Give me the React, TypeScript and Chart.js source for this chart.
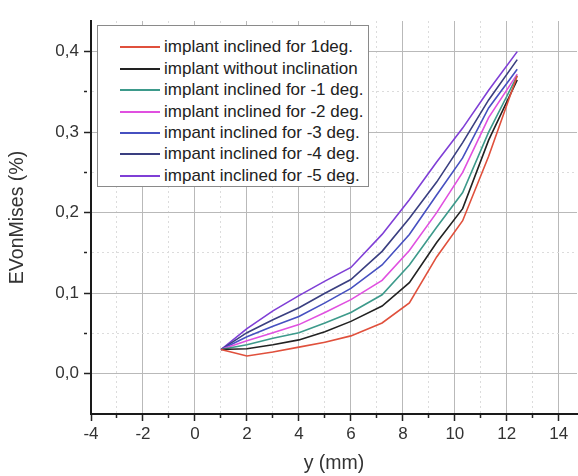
import React, { useEffect, useRef } from 'react';
import { Chart, registerables } from 'chart.js';

Chart.register(...registerables);

// x positions (mm) of the computed points
const X_VALUES = [1, 2, 3, 4, 5, 6, 7.2, 8.25, 9.3, 10.3, 11.3, 12.4];

// EVonMises (%) per series
const INCL_P1 = [0.03, 0.022, 0.027, 0.033, 0.039, 0.047, 0.063, 0.088, 0.145, 0.19, 0.27, 0.37];
const INCL_0 = [0.03, 0.031, 0.036, 0.042, 0.052, 0.065, 0.084, 0.113, 0.163, 0.205, 0.29, 0.365];
const INCL_M1 = [0.03, 0.036, 0.044, 0.051, 0.063, 0.076, 0.098, 0.135, 0.182, 0.225, 0.3, 0.37];
const INCL_M2 = [0.03, 0.041, 0.051, 0.061, 0.076, 0.092, 0.116, 0.153, 0.2, 0.25, 0.318, 0.372];
const INCL_M3 = [0.03, 0.046, 0.059, 0.071, 0.088, 0.106, 0.135, 0.173, 0.222, 0.268, 0.33, 0.378];
const INCL_M4 = [0.03, 0.051, 0.067, 0.082, 0.1, 0.117, 0.152, 0.193, 0.238, 0.287, 0.34, 0.39];
const INCL_M5 = [0.03, 0.056, 0.078, 0.097, 0.115, 0.132, 0.173, 0.216, 0.263, 0.305, 0.352, 0.4];

const SERIES_VALUES = [INCL_P1, INCL_0, INCL_M1, INCL_M2, INCL_M3, INCL_M4, INCL_M5];
const SERIES_LABELS = [
  'implant inclined for 1deg.',
  'implant without inclination',
  'implant inclined for -1 deg.',
  'implant inclined for -2 deg.',
  'impant inclined for -3 deg.',
  'impant inclined for -4 deg.',
  'impant inclined for -5 deg.',
];
const SERIES_COLORS = ['#e0503c', '#222222', '#3d9a8b', '#e050e0', '#4650c0', '#3a3f80', '#7f3fd6'];

// axis ticks (majors get labels, minors are dotted grid lines)
const X_TICKS = [-4, -3, -2, -1, 0, 1, 2, 3, 4, 5, 6, 7, 8, 9, 10, 11, 12, 13, 14];
const Y_TICKS = [0, 0.05, 0.1, 0.15, 0.2, 0.25, 0.3, 0.35, 0.4];

const X_TITLE = 'y (mm)';
const Y_TITLE = 'EVonMises (%)';

const FONT = "'Liberation Sans', Arial, sans-serif";

const isMajorX = (v: number) => Math.abs(v % 2) < 1e-9;
const isMajorY = (v: number) => Math.abs(Math.round(v * 10) - v * 10) < 1e-6;

export default function App() {
  const ref = useRef<HTMLCanvasElement>(null);

  useEffect(() => {
    const canvas = ref.current;
    if (!canvas) return;
    const gridColor = (ctx: any, major: (v: number) => boolean) =>
      ctx.tick && major(ctx.tick.value) ? '#b9b9b9' : '#dcdcdc';
    const chart = new Chart(canvas, {
      type: 'line',
      data: {
        datasets: SERIES_VALUES.map((vals, i) => ({
          label: SERIES_LABELS[i],
          data: X_VALUES.map((x, j) => ({ x, y: vals[j] })),
          borderColor: SERIES_COLORS[i],
          backgroundColor: SERIES_COLORS[i],
          borderWidth: 1.6,
          pointRadius: 0,
          tension: 0,
          fill: false,
        })),
      },
      options: {
        responsive: false,
        animation: false,
        layout: { padding: { top: 21, right: 1, left: 0, bottom: 0 } },
        plugins: { legend: { display: false }, tooltip: { enabled: false } },
        scales: {
          x: {
            type: 'linear',
            min: -4,
            max: 14.7,
            afterBuildTicks: (s: any) => {
              s.ticks = X_TICKS.map((v) => ({ value: v }));
            },
            afterFit: (s: any) => {
              s.height = 62;
            },
            ticks: {
              autoSkip: false,
              maxRotation: 0,
              padding: 3,
              color: '#333',
              font: { family: FONT, size: 17 },
              callback: (v: any) => (isMajorX(Number(v)) ? String(v) : ''),
            },
            grid: {
              color: (ctx: any) => gridColor(ctx, isMajorX),
              lineWidth: 1,
              tickLength: 7,
              tickColor: '#222',
              tickWidth: 1.5,
              tickBorderDash: (ctx: any) => (ctx.tick && isMajorX(ctx.tick.value) ? [] : [3, 40]),
            },
            border: {
              color: '#1a1a1a',
              width: 2,
              dash: (ctx: any) => (ctx.tick && isMajorX(ctx.tick.value) ? [] : [2, 3]),
            },
            title: {
              display: true,
              text: X_TITLE,
              color: '#333',
              font: { family: FONT, size: 19.5 },
              padding: { top: 0, bottom: 1 },
            },
          },
          y: {
            type: 'linear',
            min: -0.05,
            max: 0.438,
            afterBuildTicks: (s: any) => {
              s.ticks = Y_TICKS.map((v) => ({ value: v }));
            },
            afterFit: (s: any) => {
              s.width = 91;
            },
            ticks: {
              autoSkip: false,
              padding: 5,
              color: '#333',
              font: { family: FONT, size: 17 },
              callback: (v: any) => (isMajorY(Number(v)) ? Number(v).toFixed(1).replace('.', ',') : ''),
            },
            grid: {
              color: (ctx: any) => gridColor(ctx, isMajorY),
              lineWidth: 1,
              tickLength: 7,
              tickColor: '#222',
              tickWidth: 1.5,
              tickBorderDash: (ctx: any) => (ctx.tick && isMajorY(ctx.tick.value) ? [] : [3, 40]),
            },
            border: {
              color: '#1a1a1a',
              width: 2,
              dash: (ctx: any) => (ctx.tick && isMajorY(ctx.tick.value) ? [] : [2, 3]),
            },
            title: {
              display: true,
              text: Y_TITLE,
              color: '#333',
              font: { family: FONT, size: 19.5 },
              padding: { top: 6, bottom: 0 },
            },
          },
        },
      },
    } as any);
    return () => chart.destroy();
  }, []);

  return (
    <div style={{ position: 'absolute', left: 0, top: 0, width: 578, height: 476, background: '#fff' }}>
      <canvas ref={ref} width={578} height={476} style={{ display: 'block' }} />
      <div
        style={{
          position: 'absolute',
          left: 97,
          top: 25,
          width: 272,
          height: 162,
          boxSizing: 'border-box',
          border: '1px solid #8a8a8a',
          background: '#fff',
          paddingTop: 10.5,
          fontFamily: FONT,
          fontSize: 17,
          color: '#222',
        }}
      >
        {SERIES_LABELS.map((label, i) => (
          <div key={label} style={{ display: 'flex', alignItems: 'center', height: 21.45, whiteSpace: 'nowrap' }}>
            <span
              style={{
                display: 'inline-block',
                width: 40,
                height: 0,
                borderTop: `2px solid ${SERIES_COLORS[i]}`,
                marginLeft: 22,
                marginRight: 4,
              }}
            />
            <span>{label}</span>
          </div>
        ))}
      </div>
    </div>
  );
}
